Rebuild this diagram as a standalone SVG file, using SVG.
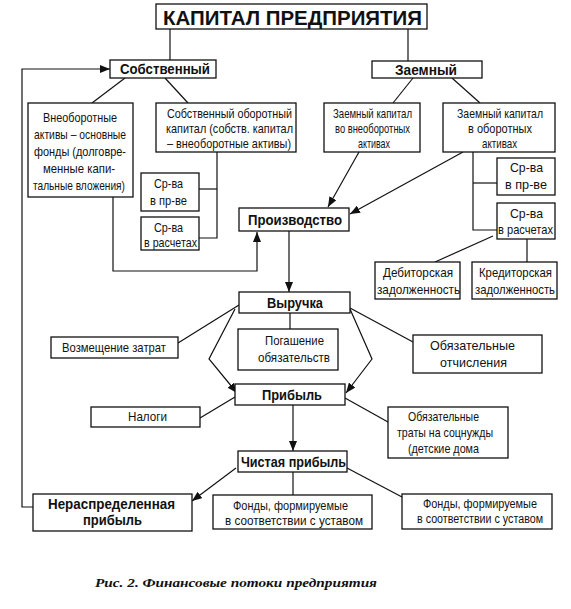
<svg xmlns="http://www.w3.org/2000/svg" width="571" height="609" viewBox="0 0 571 609">
<style>
.b{fill:#fff;stroke:#111;stroke-width:1.3}
.t{font-family:"Liberation Sans",Arial,sans-serif;font-size:13.5px;fill:#111}
.h{font-family:"Liberation Sans",Arial,sans-serif;font-size:15px;font-weight:bold;fill:#111}
.m{text-anchor:middle}
.c{fill:none;stroke:#111;stroke-width:1.2}
.a{fill:none;stroke:#111;stroke-width:1.2;marker-end:url(#ar)}
.cap{font-family:"Liberation Serif","Times New Roman",serif;font-size:13.5px;font-weight:bold;font-style:italic;fill:#111}
</style>
<defs>
<marker id="ar" viewBox="0 0 10 8" refX="10" refY="4" markerWidth="10" markerHeight="8" markerUnits="userSpaceOnUse" orient="auto">
<path d="M0,0 L10,4 L0,8 Z" fill="#111"/>
</marker>
</defs>
<rect width="571" height="609" fill="#fff"/>
<g id="connectors">
<line class="c" x1="170" y1="29" x2="170" y2="60"/>
<line class="c" x1="408" y1="29" x2="408" y2="61"/>
<polyline class="a" points="33,507 22,507 22,69 110,69"/>
<line class="c" x1="125" y1="78" x2="92" y2="103"/>
<line class="c" x1="165" y1="78" x2="188" y2="103"/>
<line class="c" x1="413" y1="78" x2="393" y2="103"/>
<line class="c" x1="452" y1="78" x2="480" y2="103"/>
<polyline class="c" points="217,152 217,238 199,238"/>
<line class="c" x1="217" y1="189" x2="199" y2="189"/>
<polyline class="a" points="113,197 113,271 257,271 257,232"/>
<line class="a" x1="359" y1="152" x2="328" y2="207"/>
<line class="a" x1="463" y1="152" x2="350" y2="214"/>
<polyline class="c" points="473,152 473,230 497,230"/>
<line class="c" x1="473" y1="183" x2="497" y2="183"/>
<line class="c" x1="493" y1="236" x2="435" y2="262"/>
<line class="c" x1="527" y1="239" x2="527" y2="262"/>
<line class="a" x1="289" y1="231" x2="289" y2="292"/>
<line class="c" x1="290" y1="313" x2="290" y2="329"/>
<polyline class="a" points="235,309 209,359 237,393"/>
<polyline class="a" points="350,309 372,359 346,393"/>
<line class="c" x1="239" y1="305" x2="178" y2="343"/>
<line class="c" x1="350" y1="308" x2="413" y2="342"/>
<line class="c" x1="200" y1="418" x2="235" y2="397"/>
<line class="c" x1="345" y1="398" x2="388" y2="422"/>
<line class="a" x1="293" y1="405" x2="293" y2="451"/>
<line class="c" x1="293" y1="472" x2="293" y2="495"/>
<line class="a" x1="236" y1="468" x2="192" y2="501"/>
<line class="c" x1="347" y1="468" x2="402" y2="497"/>
</g>
<g id="title">
<rect class="b" x="156" y="4" width="271" height="25"/>
<text class="h" style="font-size:21px" x="163" y="25" textLength="259" lengthAdjust="spacingAndGlyphs">КАПИТАЛ ПРЕДПРИЯТИЯ</text>
</g>
<g id="sobstv">
<rect class="b" x="110" y="60" width="106" height="18"/>
<text class="h" x="120" y="74" textLength="90" lengthAdjust="spacingAndGlyphs">Собственный</text>
</g>
<g id="zaem">
<rect class="b" x="372" y="61" width="110" height="17"/>
<text class="h" x="395" y="75" textLength="62" lengthAdjust="spacingAndGlyphs">Заемный</text>
</g>
<g id="vneob">
<rect class="b" x="28" y="103" width="105" height="94"/>
<text class="t" x="43" y="122" textLength="74" lengthAdjust="spacingAndGlyphs">Внеоборотные</text>
<text class="t" x="34" y="139" textLength="92" lengthAdjust="spacingAndGlyphs">активы – основные</text>
<text class="t" x="34" y="156" textLength="92" lengthAdjust="spacingAndGlyphs">фонды (долговре-</text>
<text class="t" x="43" y="173" textLength="72" lengthAdjust="spacingAndGlyphs">менные капи-</text>
<text class="t" x="33" y="190" textLength="92" lengthAdjust="spacingAndGlyphs">тальные вложения)</text>
</g>
<g id="sobob">
<rect class="b" x="156" y="103" width="140" height="49"/>
<text class="t" x="167" y="118" textLength="125" lengthAdjust="spacingAndGlyphs">Собственный оборотный</text>
<text class="t" x="166" y="133" textLength="127" lengthAdjust="spacingAndGlyphs">капитал (собств. капитал</text>
<text class="t" x="167" y="148" textLength="124" lengthAdjust="spacingAndGlyphs">– внеоборотные активы)</text>
</g>
<g id="srpr1">
<rect class="b" x="141" y="173" width="58" height="38"/>
<text class="t" x="154" y="188" textLength="29" lengthAdjust="spacingAndGlyphs">Ср-ва</text>
<text class="t" x="150" y="205" textLength="37" lengthAdjust="spacingAndGlyphs">в пр-ве</text>
</g>
<g id="srras1">
<rect class="b" x="141" y="217" width="58" height="33"/>
<text class="t" x="154" y="232" textLength="29" lengthAdjust="spacingAndGlyphs">Ср-ва</text>
<text class="t" x="144" y="247" textLength="53" lengthAdjust="spacingAndGlyphs">в расчетах</text>
</g>
<g id="zvneob">
<rect class="b" x="324" y="103" width="96" height="49"/>
<text class="t" x="333" y="118" textLength="79" lengthAdjust="spacingAndGlyphs">Заемный капитал</text>
<text class="t" x="335" y="133" textLength="75" lengthAdjust="spacingAndGlyphs">во внеоборотных</text>
<text class="t" x="358" y="148" textLength="32" lengthAdjust="spacingAndGlyphs">активах</text>
</g>
<g id="zob">
<rect class="b" x="443" y="103" width="112" height="49"/>
<text class="t m" x="500" y="118" textLength="86" lengthAdjust="spacingAndGlyphs">Заемный капитал</text>
<text class="t m" x="500" y="133" textLength="64" lengthAdjust="spacingAndGlyphs">в оборотных</text>
<text class="t m" x="499.5" y="148" textLength="35" lengthAdjust="spacingAndGlyphs">активах</text>
</g>
<g id="srpr2">
<rect class="b" x="497" y="158" width="58" height="37"/>
<text class="t m" x="526.5" y="172" textLength="33" lengthAdjust="spacingAndGlyphs">Ср-ва</text>
<text class="t m" x="526" y="189" textLength="42" lengthAdjust="spacingAndGlyphs">в пр-ве</text>
</g>
<g id="srras2">
<rect class="b" x="497" y="203" width="58" height="36"/>
<text class="t m" x="526.5" y="218" textLength="33" lengthAdjust="spacingAndGlyphs">Ср-ва</text>
<text class="t m" x="525.5" y="234" textLength="55" lengthAdjust="spacingAndGlyphs">в расчетах</text>
</g>
<g id="proizv">
<rect class="b" x="239" y="208" width="110" height="23"/>
<text class="h" x="248" y="225" textLength="94" lengthAdjust="spacingAndGlyphs">Производство</text>
</g>
<g id="debit">
<rect class="b" x="375" y="262" width="85" height="37"/>
<text class="t" x="383" y="277" textLength="70" lengthAdjust="spacingAndGlyphs">Дебиторская</text>
<text class="t" x="377" y="294" textLength="83" lengthAdjust="spacingAndGlyphs">задолженность</text>
</g>
<g id="kredit">
<rect class="b" x="472" y="262" width="85" height="37"/>
<text class="t m" x="515.5" y="277" textLength="73" lengthAdjust="spacingAndGlyphs">Кредиторская</text>
<text class="t m" x="515" y="294" textLength="80" lengthAdjust="spacingAndGlyphs">задолженность</text>
</g>
<g id="vyruchka">
<rect class="b" x="239" y="292" width="111" height="21"/>
<text class="h" x="267" y="308" textLength="56" lengthAdjust="spacingAndGlyphs">Выручка</text>
</g>
<g id="pogash">
<rect class="b" x="238" y="329" width="100" height="41"/>
<text class="t" x="265" y="345" textLength="59" lengthAdjust="spacingAndGlyphs">Погашение</text>
<text class="t" x="258" y="362" textLength="72" lengthAdjust="spacingAndGlyphs">обязательств</text>
</g>
<g id="vozm">
<rect class="b" x="51" y="337" width="127" height="21"/>
<text class="t" x="62" y="352" textLength="104" lengthAdjust="spacingAndGlyphs">Возмещение затрат</text>
</g>
<g id="obotch">
<rect class="b" x="413" y="335" width="129" height="38"/>
<text class="t m" x="472.5" y="350" textLength="85" lengthAdjust="spacingAndGlyphs">Обязательные</text>
<text class="t m" x="473.5" y="367" textLength="67" lengthAdjust="spacingAndGlyphs">отчисления</text>
</g>
<g id="pribyl">
<rect class="b" x="235" y="384" width="110" height="21"/>
<text class="h" x="262" y="400" textLength="60" lengthAdjust="spacingAndGlyphs">Прибыль</text>
</g>
<g id="nalogi">
<rect class="b" x="91" y="407" width="109" height="20"/>
<text class="t" x="128" y="421" textLength="39" lengthAdjust="spacingAndGlyphs">Налоги</text>
</g>
<g id="obtraty">
<rect class="b" x="388" y="407" width="120" height="51"/>
<text class="t" x="408" y="421" textLength="71" lengthAdjust="spacingAndGlyphs">Обязательные</text>
<text class="t" x="397" y="437" textLength="96" lengthAdjust="spacingAndGlyphs">траты на соцнужды</text>
<text class="t" x="408" y="453" textLength="71" lengthAdjust="spacingAndGlyphs">(детские дома</text>
</g>
<g id="chistaya">
<rect class="b" x="238" y="451" width="109" height="21"/>
<text class="h" x="241" y="467" textLength="105" lengthAdjust="spacingAndGlyphs">Чистая прибыль</text>
</g>
<g id="neraspr">
<rect class="b" x="33" y="494" width="159" height="37"/>
<text class="h" x="48" y="509" textLength="127" lengthAdjust="spacingAndGlyphs">Нераспределенная</text>
<text class="h" x="83" y="525" textLength="59" lengthAdjust="spacingAndGlyphs">прибыль</text>
</g>
<g id="fondy1">
<rect class="b" x="213" y="495" width="159" height="34"/>
<text class="t" x="233" y="510" textLength="115" lengthAdjust="spacingAndGlyphs">Фонды, формируемые</text>
<text class="t" x="225" y="525" textLength="138" lengthAdjust="spacingAndGlyphs">в соответствии с уставом</text>
</g>
<g id="fondy2">
<rect class="b" x="402" y="494" width="150" height="35"/>
<text class="t m" x="480" y="508" textLength="114" lengthAdjust="spacingAndGlyphs">Фонды, формируемые</text>
<text class="t m" style="font-size:12.5px" x="480" y="523" textLength="126" lengthAdjust="spacingAndGlyphs">в соответствии с уставом</text>
</g>
<text class="cap" x="95" y="587" textLength="282" lengthAdjust="spacingAndGlyphs">Рис. 2. Финансовые потоки предприятия</text>
</svg>
